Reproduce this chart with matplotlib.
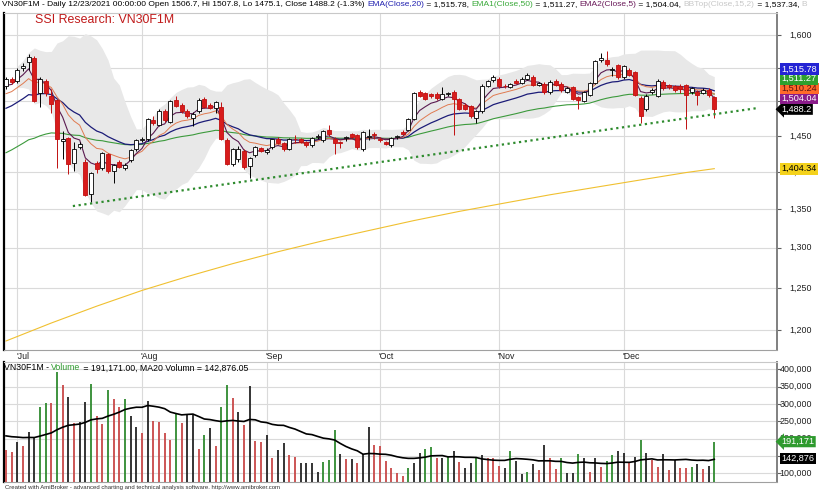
import numpy as np
import pandas as pd
import matplotlib
matplotlib.use("Agg")
import matplotlib.pyplot as plt
import matplotlib.transforms as mtransforms

W, H = 819, 497
FONT = "Liberation Sans"

# ---- data (VN30F1M daily, 29 Jun - 23 Dec 2021) ----
months = ["Jul", "Aug", "Sep", "Oct", "Nov", "Dec"]
month_start = [2, 24, 46, 66, 87, 109]

opens = [1522, 1533, 1530, 1549, 1558, 1564, 1512, 1530, 1508, 1502,
         1443, 1447, 1412, 1435, 1414, 1370, 1412, 1405, 1424, 1401,
         1413, 1405, 1416, 1431, 1444, 1445, 1473, 1466, 1486, 1470,
         1501, 1495, 1486, 1476, 1485, 1503, 1494, 1490, 1492, 1444,
         1411, 1417, 1429, 1408, 1423, 1433, 1428, 1434, 1445, 1440,
         1431, 1446, 1445, 1441, 1437, 1448, 1444, 1459, 1446, 1441,
         1447, 1452, 1451, 1431, 1449, 1452, 1445, 1441, 1437, 1448,
         1456, 1459, 1474, 1513, 1512, 1510, 1511, 1503, 1510, 1513,
         1503, 1495, 1493, 1475, 1485, 1523, 1531, 1533, 1523, 1521,
         1530, 1527, 1533, 1536, 1524, 1526, 1513, 1530, 1526, 1514,
         1521, 1506, 1500, 1509, 1527, 1561, 1561, 1546, 1554, 1535,
         1547, 1543, 1505, 1488, 1513, 1508, 1529, 1524, 1522, 1523,
         1524, 1513, 1514, 1512, 1517, 1506.7]
highs = [1536, 1536, 1549, 1557, 1570, 1568, 1535, 1533, 1518, 1503,
         1457, 1449, 1442, 1442, 1418, 1400, 1415, 1428, 1426, 1411,
         1416, 1412, 1432, 1446, 1448, 1476, 1478, 1488, 1488, 1502,
         1507, 1497, 1488, 1484, 1504, 1506, 1497, 1500, 1499, 1447,
         1433, 1436, 1431, 1421, 1436, 1435, 1433, 1446, 1448, 1442,
         1447, 1451, 1447, 1443, 1449, 1452, 1459, 1466, 1448, 1443,
         1450, 1454, 1453, 1457, 1460, 1456, 1448, 1443, 1449, 1451,
         1458, 1476, 1514, 1516, 1514, 1512, 1513, 1521, 1514, 1516,
         1505, 1497, 1495, 1487, 1525, 1531, 1539, 1535, 1526, 1527,
         1532, 1535, 1542, 1539, 1529, 1528, 1531, 1532, 1528, 1521,
         1523, 1508, 1515, 1529, 1562, 1572, 1575, 1551, 1556, 1554,
         1549, 1545, 1507, 1510, 1519, 1532, 1531, 1526, 1524, 1525,
         1526, 1521, 1516, 1519, 1519, 1507.8]
lows = [1518, 1526, 1527, 1545, 1547, 1498, 1492, 1508, 1483, 1405,
        1417, 1397, 1401, 1432, 1367, 1359, 1399, 1403, 1398, 1385,
        1405, 1402, 1414, 1429, 1441, 1443, 1466, 1464, 1470, 1468,
        1491, 1483, 1476, 1464, 1483, 1490, 1488, 1483, 1444, 1409,
        1408, 1414, 1404, 1391, 1421, 1427, 1425, 1432, 1438, 1429,
        1430, 1440, 1440, 1435, 1435, 1445, 1442, 1450, 1425, 1433,
        1443, 1447, 1432, 1429, 1444, 1446, 1442, 1437, 1435, 1446,
        1452, 1457, 1472, 1506, 1501, 1505, 1502, 1501, 1507, 1451,
        1487, 1487, 1476, 1469, 1483, 1521, 1529, 1520, 1520, 1519,
        1525, 1525, 1531, 1522, 1522, 1511, 1511, 1522, 1514, 1512,
        1501, 1488, 1498, 1507, 1525, 1558, 1553, 1537, 1533, 1533,
        1537, 1507, 1468, 1486, 1510, 1506, 1517, 1518, 1514, 1512,
        1460, 1511, 1495, 1510, 1506, 1475.1]
closes = [1533, 1528, 1547, 1553, 1566, 1500, 1533, 1512, 1496, 1445,
          1446, 1411, 1431, 1439, 1369, 1398, 1404, 1426, 1401, 1409,
          1407, 1409, 1430, 1444, 1446, 1474, 1469, 1486, 1472, 1500,
          1493, 1485, 1478, 1482, 1502, 1492, 1490, 1498, 1445, 1411,
          1431, 1432, 1406, 1419, 1434, 1429, 1430, 1445, 1440, 1431,
          1445, 1445, 1442, 1437, 1447, 1450, 1457, 1452, 1440, 1440,
          1448, 1449, 1434, 1455, 1450, 1451, 1444, 1439, 1447, 1450,
          1453, 1474, 1512, 1508, 1503, 1507, 1504, 1511, 1512, 1503,
          1489, 1489, 1478, 1485, 1523, 1530, 1536, 1522, 1522, 1525,
          1527, 1533, 1539, 1524, 1527, 1513, 1529, 1524, 1516, 1519,
          1503, 1501, 1513, 1527, 1560, 1564, 1555, 1548, 1535, 1552,
          1539, 1509, 1478, 1508, 1516, 1530, 1519, 1521, 1517, 1518,
          1509, 1519, 1509, 1517, 1509, 1488.2]

# volume in thousands of contracts, and the bar colour class (g up, r down, k dark)
vol_k = [167, 162, 189, 180, 218, 206, 292, 302, 302, 393,
         354, 321, 244, 249, 306, 356, 265, 242, 340, 314,
         292, 313, 265, 234, 215, 308, 251, 249, 215, 196,
         270, 244, 270, 268, 169, 210, 231, 180, 290, 354,
         316, 278, 239, 352, 193, 189, 210, 145, 167, 188,
         153, 148, 129, 129, 129, 105, 132, 138, 225, 155,
         141, 140, 129, 155, 234, 182, 180, 135, 114, 102,
         93, 114, 129, 158, 170, 177, 145, 145, 148, 165,
         133, 114, 129, 143, 153, 145, 145, 122, 114, 165,
         135, 97, 105, 126, 110, 182, 145, 113, 145, 100,
         100, 155, 145, 105, 143, 119, 135, 153, 165, 158,
         129, 148, 196, 158, 138, 119, 155, 110, 138, 116,
         116, 119, 126, 113, 122, 191.171]
vol_class = ("rrkrkkggrgrkrkkgrrgrrgkkrkrrrrgrkkrgkrggrkrkrrkrkkrrkkkkgggkrkrkkrrrrrrgkkggrkgkrkkgkrrrkgkkgkrkrrgkkgkrkrggkkrkgkrrkrkrrgkrkg")
vol_ma_start = 210  # level of the MA20 line at the left edge (thousands)

ema_seed = {5: 1518, 10: 1506, 20: 1485, 50: 1422}

ma200_idx = [0, 8, 16, 24, 32, 40, 48, 56, 64, 72, 80, 88, 96, 104, 112, 120, 125]
ma200_val = [1187, 1208, 1228, 1247, 1264, 1280, 1295, 1309, 1322, 1335,
             1347, 1358, 1369, 1379, 1389, 1399, 1404.34]

trend_idx = [11.8, 132.7]
trend_val = [1354, 1490]

price_ticks = [1200, 1250, 1300, 1350, 1400, 1450, 1500, 1550, 1600]
vol_ticks = [100000, 150000, 200000, 250000, 300000, 350000, 400000]

main_labels = [(1404.34, "1,404.34", "#f4d21c", "black"),
               (1488.2, "1,488.2", "black", "white"),
               (1504.04, "1,504.04", "#8a1c8a", "white"),
               (1510.24, "1,510.24", "#ff6a2b", "#5a1010"),
               (1511.27, "1,511.27", "#2ea02e", "white"),
               (1515.78, "1,515.78", "#2424d4", "white")]
vol_labels = [(142876.05, "142,876", "black", "white"),
              (191171, "191,171", "#2e9a2e", "white")]
arrow_labels = ["1,488.2", "191,171"]

# ---- figure ----
fig = plt.figure(figsize=(W / 100, H / 100), dpi=100)


def px_axes(left, top, right, bottom):
    return fig.add_axes([left / W, 1 - bottom / H, (right - left) / W, (bottom - top) / H])


ax = px_axes(3.5, 13, 777, 350)
axv = px_axes(3.5, 362, 777, 482)

n = len(closes)
x = np.arange(n)
o = np.array(opens, float)
h = np.array(highs, float)
l = np.array(lows, float)
c = np.array(closes, float)
vol = np.array(vol_k) * 1000.0


# indicators as AmiBroker draws them
def ema(span):
    s = pd.Series([ema_seed[span]] + list(c))
    return s.ewm(span=span, adjust=False).mean().values[1:]


roll = pd.Series(c).rolling(15, min_periods=3)
bb_mid = roll.mean().values
bb_sd = roll.std(ddof=0).values
ax.fill_between(x, bb_mid - 2 * bb_sd, bb_mid + 2 * bb_sd, color="#e8e8e8", lw=0, zorder=1)

ax.plot(x, ema(50), color="#3c9a3c", lw=0.8, zorder=2)
ax.plot(x, ema(20), color="#1c1c78", lw=0.9, zorder=2)
ax.plot(x, ema(10), color="#e07a50", lw=0.7, zorder=2)
ax.plot(x, ema(5), color="#5a1a50", lw=0.8, zorder=2)
ax.plot(ma200_idx, ma200_val, color="#f0c030", lw=0.8, zorder=2)

# candles
up = c >= o
ax.vlines(x[up], l[up], h[up], color="black", lw=0.7, zorder=3)
ax.vlines(x[~up], l[~up], h[~up], color="#c01010", lw=0.7, zorder=3)
body_lo = np.minimum(o, c)
body_h = np.maximum(np.abs(c - o), 0.8)
ax.bar(x[up], body_h[up], bottom=body_lo[up], width=0.72, color="white",
       edgecolor="black", lw=0.6, zorder=4)
ax.bar(x[~up], body_h[~up], bottom=body_lo[~up], width=0.72, color="#d81c1c",
       edgecolor="#c01010", lw=0.6, zorder=4)

ax.plot(trend_idx, trend_val, color="#2e8b2e", lw=1.6, ls=(0, (1, 1.6)), zorder=5)

# axes styling
for a in (ax, axv):
    a.set_xlim(-0.44, 136.07)
    a.set_facecolor("white")
    a.set_axisbelow(True)
    for m in month_start:
        a.axvline(m, color="#dadada", lw=0.8, zorder=0)
    a.tick_params(axis="x", bottom=False, labelbottom=False)
    a.tick_params(axis="y", left=False, labelleft=False, right=True, labelright=False,
                  direction="out", length=3, width=0.8, color="#606060")
    a.spines["left"].set_color("black")
    a.spines["left"].set_linewidth(1.6)
    a.spines["right"].set_color("#808080")
    a.spines["right"].set_linewidth(1.4)
    a.spines["top"].set_color("#c8c8c8")
    a.spines["bottom"].set_color("#a0a0a0")

ax.set_yscale("log")
ax.set_ylim(1176.6, 1634.7)
ax.set_yticks(price_ticks)
ax.yaxis.set_minor_locator(plt.NullLocator())
for t in price_ticks:
    ax.axhline(t, color="#dadada", lw=0.8, zorder=0)

# volume pane
vol_bottom = 74900
cmap = {"g": "#2f8a2f", "r": "#c84848", "k": "#242424"}
axv.vlines(x, vol_bottom, vol, colors=[cmap[k] for k in vol_class], lw=1.3, zorder=3)
padded = pd.Series([vol_ma_start * 1000.0] * 19 + list(vol))
ma20 = padded.rolling(20).mean().values[19:]
axv.plot(x, ma20, color="black", lw=1.2, zorder=4)
axv.set_ylim(vol_bottom, 420800)
axv.set_yticks(vol_ticks)
for t in vol_ticks:
    axv.axhline(t, color="#dadada", lw=0.8, zorder=0)

# scale numbers, right aligned like AmiBroker
for a, ticks in ((ax, price_ticks), (axv, vol_ticks)):
    tr = mtransforms.blended_transform_factory(fig.transFigure, a.transData)
    for t in ticks:
        a.text(812 / W, t, f"{t:,.0f}", transform=tr, ha="right", va="center",
               fontsize=6.4, family=FONT, color="#202020", clip_on=False, zorder=6)

# month labels between the panes
for m, name in zip(month_start, months):
    ax.text(m - 0.2, -0.018, "'" + name, transform=ax.get_xaxis_transform(),
            ha="left", va="center", fontsize=6.3, family=FONT, color="#202020", clip_on=False)

# value boxes on the price scale (stacked like AmiBroker)
fig.canvas.draw()
r = fig.canvas.get_renderer()
box_x = (781.5 - 3.5) / (777 - 3.5)


def value_boxes(a, items, gap):
    prev = None
    for val, txt, fc, tc in sorted(items):
        yd = a.transData.transform((0, val))[1]
        if prev is not None and yd < prev + gap:
            yd = prev + gap
        prev = yd
        yf = a.transAxes.inverted().transform((0, yd))[1]
        style = "larrow,pad=0.12" if txt in arrow_labels else "square,pad=0.15"
        a.text(box_x, yf, txt, transform=a.transAxes,
               ha="left", va="center", fontsize=6.6, family=FONT, color=tc, zorder=10,
               clip_on=False, bbox=dict(boxstyle=style, fc=fc, ec="none"))


value_boxes(ax, main_labels, 9.8)
value_boxes(axv, vol_labels, 9.8)


def color_line(x_px, y_px, parts, size):
    for s, col in parts:
        t = fig.text(x_px / W, 1 - y_px / H, s, color=col, fontsize=size, family=FONT,
                     ha="left", va="center")
        x_px += t.get_window_extent(r).width


color_line(2, 5, [("VN30F1M - Daily 12/23/2021 00:00:00 Open 1506.7, Hi 1507.8, Lo 1475.1, "
                   "Close 1488.2 (-1.3%) ", "black"),
                  ("EMA(Close,20)", "#2020b0"), (" = 1,515.78, ", "black"),
                  ("EMA1(Close,50)", "#3caa3c"), (" = 1,511.27, ", "black"),
                  ("EMA2(Close,5)", "#6a1a5a"), (" = 1,504.04, ", "black"),
                  ("BBTop(Close,15,2)", "#c8c8c8"), (" = 1,537.34, ", "black"),
                  ("B", "#c8c8c8")], 6.0)
color_line(4, 368, [("VN30F1M - ", "black"), ("Volume", "#2e9a2e"),
                    (" = 191,171.00, MA20 Volumn = 142,876.05", "black")], 6.3)

fig.text(35 / W, 1 - 20 / H, "SSI Research: VN30F1M", color="#c01818", fontsize=8.9,
         family=FONT, ha="left", va="center")
fig.text(5 / W, 1 - 487 / H, "Created with AmiBroker - advanced charting and technical "
         "analysis software. http://www.amibroker.com", fontsize=4.3, family=FONT,
         ha="left", va="center", color="#303030")

fig.savefig("out.png", dpi=100, facecolor="white")
